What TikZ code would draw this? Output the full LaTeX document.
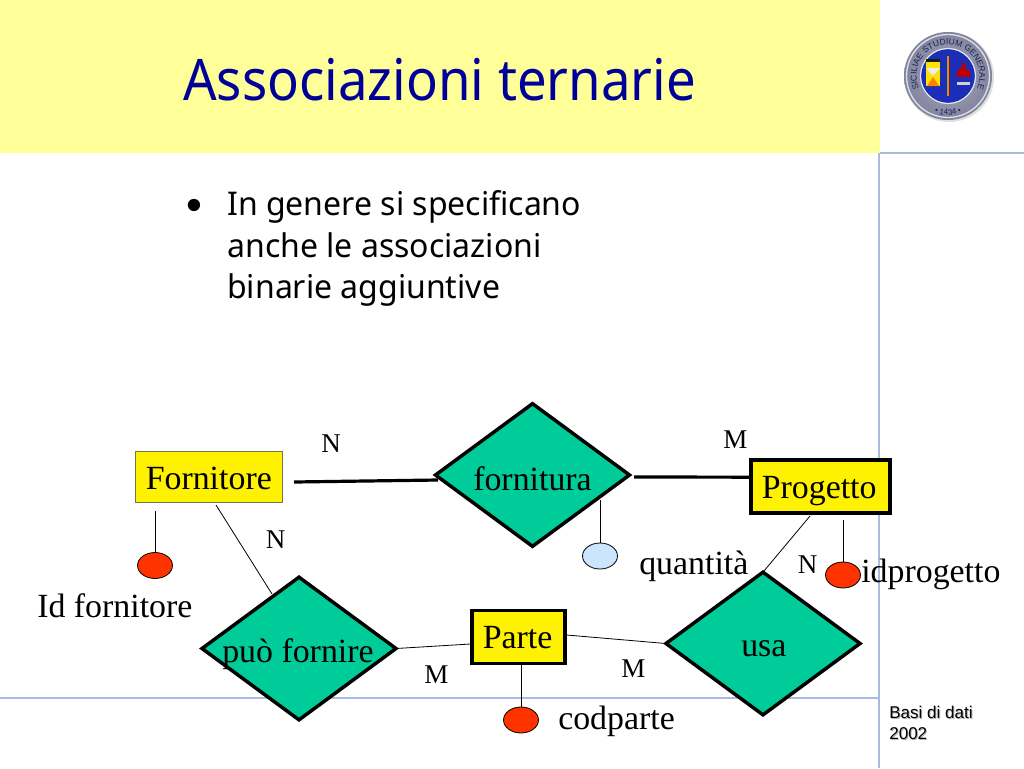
\documentclass[tikz,border=0pt]{standalone}
\usepackage{fontspec}
\setmainfont{Liberation Serif}
\newfontfamily\titlefont[FakeStretch=0.92]{Noto Sans}
\newfontfamily\tahomalike[FakeStretch=0.98]{Noto Sans}
\newfontfamily\arialfont{Liberation Sans}
\usetikzlibrary{shapes.geometric,decorations.text}
\definecolor{paleyellow}{HTML}{FFFF99}
\definecolor{titleblue}{HTML}{000099}
\definecolor{rulecol}{HTML}{A9BCDD}
\definecolor{relgreen}{HTML}{00CC99}
\definecolor{attrred}{HTML}{FF3300}
\definecolor{attrblue}{HTML}{CCE5FF}
\definecolor{sealring}{HTML}{8F92AE}
\definecolor{sealblue}{HTML}{1A2EB8}
\definecolor{sealtext}{HTML}{1C2350}
\tikzset{
  lbl/.style={inner sep=0pt,anchor=base west,font=\fontsize{25.4}{25.4}\selectfont},
  card/.style={inner sep=0pt,anchor=base west,font=\fontsize{20.3}{20.3}\selectfont},
  rel/.style={diamond,draw=black,line width=2.6pt,fill=relgreen,inner sep=0pt,minimum width=145.5pt,minimum height=107pt,outer sep=0pt},
  entthin/.style={rectangle,draw=black!60!yellow,line width=0.9pt,fill=yellow,inner sep=0pt},
  entthick/.style={rectangle,draw=black,line width=2.6pt,fill=yellow,inner sep=0pt},
  attr/.style={ellipse,draw=black,line width=0.6pt,inner sep=0pt,minimum width=26.2pt,minimum height=19.5pt},
  thinline/.style={draw=black,line width=0.6pt},
  heavyline/.style={draw=black,line width=2.4pt},
  bodytxt/.style={inner sep=0pt,anchor=base west,font=\tahomalike\fontsize{24.5}{24.5}\selectfont},
  foot/.style={inner sep=0pt,anchor=base west,font=\arialfont\fontsize{12.8}{12.8}\selectfont},
}
\begin{document}
\begin{tikzpicture}[x=0.75pt,y=-0.75pt]
\useasboundingbox (0,0) rectangle (1024,768);
\fill[white] (0,0) rectangle (1024,768);
\fill[paleyellow] (0,0) rectangle (880,153);
\draw[rulecol,line width=0.8pt] (880,153) -- (1024,153);
\draw[rulecol,line width=0.8pt] (879,153) -- (879,768);
\draw[rulecol,line width=0.8pt] (0,698) -- (879,698);
% title and bullets
\node[inner sep=0pt,anchor=base west,text=titleblue,font=\titlefont\fontsize{43}{43}\selectfont] (title) at (183,100) {Associazioni ternarie};
\node[inner sep=0pt,anchor=base west,font=\arialfont\fontsize{34}{34}\selectfont] (bul) at (186,220) {•};
\node[bodytxt] (b1) at (227,215) {In genere si specificano};
\node[bodytxt] (b2) at (227,257) {anche le associazioni};
\node[bodytxt] (b3) at (227,298) {binarie aggiuntive};
% footer
\node[foot,text=gray!60] (fs1) at (890,719) {Basi di dati};
\node[foot,text=gray!60] (fs2) at (890,740) {2002};
\node[foot] (f1) at (889,718) {Basi di dati};
\node[foot] (f2) at (889,739) {2002};
% seal
\begin{scope}[shift={(948,76)},x=0.75pt,y=0.75pt]
\fill[gray!25] (1,-1) circle (45);
\shade[inner color=sealring!80,outer color=sealring!90!black] (0,0) circle (44);
\draw[white!70!sealring,line width=1pt] (0,0) circle (41.5);
\fill[sealblue] (0,0) circle (27);
\draw[white!75!sealring,line width=0.9pt] (0,0) circle (27.5);
\fill[yellow!85!orange] (-22,14) -- (-22,-10) -- (-8,-10) -- (-8,14) -- cycle;
\fill[white!85!gray] (-22,8) -- (-8,8) -- (-15,0) -- cycle;
\fill[orange] (-21,-10) -- (-9,-10) -- (-15,-1) -- cycle;
\fill[gray!20!black] (-22,17) rectangle (-8,14);
\fill[red!70!black] (-1.5,-20) rectangle (1.5,20);
\fill[yellow!60!black] (-0.8,-20) rectangle (0.8,20);
\fill[red!75!black] (9,-1) rectangle (22,6);
\fill[red!75!black] (12,6) -- (19,6) -- (15.5,15) -- cycle;
\fill[gray!35] (9,-9) rectangle (22,-6);
\path[postaction={decorate},decoration={text along path,text align=center,
  text={|\arialfont\fontsize{6.4}{6.4}\selectfont\color{sealtext}|SICILIAE STUDIUM GENERALE}}]
  (225:31.5) arc[start angle=225,end angle=-45,radius=31.5];
\path[postaction={decorate},decoration={text along path,text align=center,
  text={|\arialfont\fontsize{6}{6}\selectfont\color{sealtext}|• 1434 •}}]
  (240:39) arc[start angle=240,end angle=300,radius=39];
\end{scope}
% free ends of connectors
\coordinate (fornR) at (294,482);
\coordinate (relFr) at (634,477);
\coordinate (fornB) at (216,505);
\coordinate (puoT) at (272,594);
\coordinate (progB) at (810,516);
\coordinate (idfS) at (155,511);
\coordinate (qS) at (600,500);
\coordinate (idpS) at (843,520);
\coordinate (codS) at (521,665);
% ellipses
\node[attr,fill=attrred] (idf) at (155,565.5) {};
\node[attr,fill=attrblue] (q) at (600,556) {};
\node[attr,fill=attrred] (idp) at (843,575) {};
\node[attr,fill=attrred] (cod) at (521,720) {};
\draw[thinline] (idfS) -- (idf.north);
\draw[thinline] (qS) -- (q.north);
\draw[thinline] (idpS) -- (idp.north);
\draw[thinline] (codS) -- (cod.north);
% edges (drawn first where they run under the shapes)
\draw[heavyline] (fornR) -- (438,480);
\coordinate (frelc) at (532.5,475);
% diamonds and entities
\node[rel] (frel) at (frelc) {};
\node[rel] (puo) at (299,648.5) {};
\node[rel] (usa) at (763,643.5) {};
\node[entthin,minimum width=110.5pt,minimum height=38.5pt] (forn) at (209,477) {};
\node[entthick,minimum width=104pt,minimum height=39.5pt] (prog) at (820.5,486.5) {};
\node[entthick,minimum width=69.5pt,minimum height=40pt] (par) at (518.5,637) {};
\draw[heavyline] (relFr) -- ([yshift=7pt]prog.west);
\draw[thinline] (fornB) -- (puoT);
\draw[thinline] (puo.east) -- ([yshift=-5.25pt]par.west);
\draw[thinline] ([yshift=1.5pt]par.east) -- (usa.west);
\draw[thinline] (progB) -- (usa.north);
% texts
\node[lbl] (tF) at (145.5,489) {Fornitore};
\node[lbl] (tf) at (473,490) {fornitura};
\node[lbl] (tP) at (761.5,498) {Progetto};
\node[lbl] (tPa) at (482.5,648) {Parte};
\node[lbl] (tp) at (222,662) {può fornire};
\node[lbl] (tu) at (741,656) {usa};
\node[lbl] (tI) at (37,617.5) {Id fornitore};
\node[lbl] (tq) at (639,574) {quantità};
\node[lbl] (ti) at (861,582.5) {idprogetto};
\node[lbl] (tc) at (558,729) {codparte};
\node[card] (n1) at (321,452) {N};
\node[card] (n2) at (265.5,548) {N};
\node[card] (m1) at (424,683) {M};
\node[card] (m2) at (723,448) {M};
\node[card] (n3) at (797.5,573) {N};
\node[card] (m3) at (621,677) {M};
\end{tikzpicture}
\end{document}
